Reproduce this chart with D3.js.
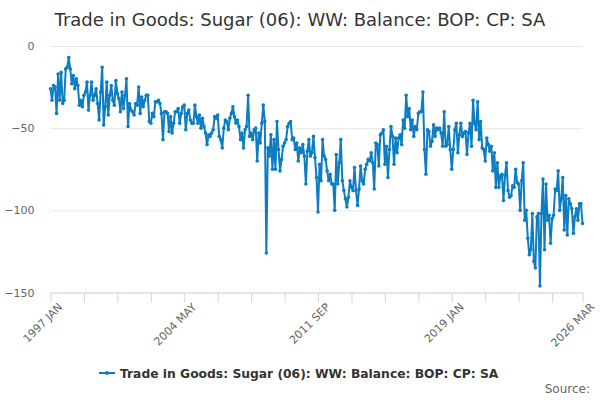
<!DOCTYPE html>
<html>
<head>
<meta charset="utf-8">
<script src="https://cdn.jsdelivr.net/npm/d3@7"></script>
<style>
	body { margin: 0; background: #fff; }
	svg { font-family: "DejaVu Sans", sans-serif; }
</style>
</head>
<body>
<script>
(function() {
	'use strict';

	// DATA //

	var title = 'Trade in Goods: Sugar (06): WW: Balance: BOP: CP: SA',
		seriesName = 'Trade in Goods: Sugar (06): WW: Balance: BOP: CP: SA',
		startYear = 1997,
		monthNames = [ 'JAN','FEB','MAR','APR','MAY','JUN','JUL','AUG','SEP','OCT','NOV','DEC' ],
		yTicks = [ 0, -50, -100, -150 ],
		tickLabels = [ '1997 JAN', '2004 MAY', '2011 SEP', '2019 JAN', '2026 MAR' ];

	// Monthly balance, one row per year (1997 ... 2026 MAR):
	var values = [
		-26, -33, -24, -25, -41, -17, -33, -16, -35, -33, -14, -13,
		-7, -14, -23, -18, -26, -20, -24, -36, -33, -37, -30, -28,
		-22, -39, -30, -22, -33, -30, -26, -35, -45, -28, -13, -48,
		-37, -22, -42, -30, -24, -33, -36, -21, -29, -32, -40, -28,
		-38, -30, -20, -49, -35, -39, -40, -42, -35, -36, -25, -41,
		-31, -37, -33, -30, -30, -46, -47, -41, -43, -34, -34, -33,
		-35, -41, -57, -40, -40, -41, -52, -43, -53, -47, -40, -40,
		-38, -47, -41, -37, -36, -51, -41, -39, -45, -47, -47, -36,
		-43, -47, -42, -50, -44, -49, -53, -60, -54, -55, -53, -51,
		-43, -44, -42, -55, -57, -62, -50, -45, -46, -51, -44, -41,
		-37, -43, -47, -45, -49, -57, -53, -62, -51, -49, -30, -55,
		-53, -57, -51, -50, -70, -53, -59, -47, -36, -46, -126, -62,
		-67, -54, -75, -57, -75, -46, -63, -76, -69, -61, -59, -57,
		-49, -47, -46, -57, -56, -63, -59, -70, -62, -65, -60, -67,
		-84, -64, -57, -67, -65, -55, -68, -80, -101, -72, -82, -57,
		-67, -69, -76, -82, -78, -84, -84, -100, -66, -84, -71, -57,
		-82, -88, -93, -98, -92, -82, -86, -88, -74, -88, -97, -87,
		-73, -82, -84, -75, -72, -69, -70, -65, -71, -87, -59, -60,
		-73, -54, -53, -51, -72, -61, -80, -63, -49, -55, -72, -56,
		-65, -56, -54, -60, -45, -50, -30, -43, -38, -51, -45, -55,
		-49, -51, -41, -40, -40, -28, -63, -78, -51, -52, -61, -58,
		-48, -55, -50, -51, -50, -53, -61, -40, -61, -60, -49, -63,
		-75, -63, -51, -47, -65, -54, -47, -55, -53, -52, -66, -53,
		-47, -61, -33, -47, -51, -34, -57, -46, -62, -63, -70, -56,
		-60, -64, -61, -76, -65, -86, -71, -86, -79, -78, -94, -79,
		-71, -88, -92, -91, -85, -86, -75, -83, -84, -100, -82, -71,
		-106, -100, -117, -127, -124, -102, -131, -135, -104, -102, -146, -102,
		-81, -124, -84, -106, -103, -120, -105, -103, -87, -88, -76, -100,
		-93, -80, -112, -91, -115, -93, -96, -99, -114, -104, -99, -106,
		-96, -96, -108
	];

	// SETUP //

	var w = 600,
		h = 400,
		color = '#0d7dc2',
		left = 50.5,
		right = 582.5,
		top = 46,
		bottom = 292.5,
		categories = [],
		tickEvery = 22,
		svg, xScale, yScale, xAxis, yAxis, line, xTickValues, labelled, i, legend;

	// Build the category names from the first month:
	for ( i = 0; i < values.length; i++ ) {
		categories.push( ( startYear + Math.floor( i/12 ) ) + ' ' + monthNames[ i % 12 ] );
	}

	// Tick marks every 22 months, plus the last month:
	xTickValues = d3.range( 0, values.length - 1, tickEvery );
	xTickValues.push( values.length - 1 );
	labelled = tickLabels.map( function( d ) { return categories.indexOf( d ); } );

	xScale = d3.scaleLinear()
		.domain( [ 0, values.length - 1 ] )
		.range( [ left, right ] );

	yScale = d3.scaleLinear()
		.domain( [ -150, 0 ] )
		.range( [ bottom, top ] );

	svg = d3.select( 'body' ).append( 'svg' )
		.attr( 'width', w )
		.attr( 'height', h )
		.attr( 'viewBox', '0 0 ' + w + ' ' + h );

	// Title:
	svg.append( 'text' )
		.attr( 'x', w/2 )
		.attr( 'y', 26 )
		.attr( 'text-anchor', 'middle' )
		.style( 'font-size', '18px' )
		.style( 'fill', '#333333' )
		.text( title );

	// Gridlines and y labels:
	yAxis = svg.append( 'g' )
		.attr( 'class', 'y axis' )
		.attr( 'transform', 'translate(' + left + ',0)' )
		.call( d3.axisLeft( yScale ).tickValues( yTicks ).tickSize( -( right - left ) ).tickPadding( 16 ) );
	yAxis.select( '.domain' ).remove();
	yAxis.selectAll( 'line' )
		.attr( 'stroke', '#e6e6e6' );
	yAxis.selectAll( 'text' )
		.style( 'font-size', '11px' )
		.style( 'font-family', '"DejaVu Sans", sans-serif' )
		.style( 'fill', '#666666' );

	// X axis:
	xAxis = svg.append( 'g' )
		.attr( 'class', 'x axis' )
		.attr( 'transform', 'translate(0,' + bottom + ')' )
		.call( d3.axisBottom( xScale )
			.tickValues( xTickValues )
			.tickSize( 10 )
			.tickSizeOuter( 0 )
			.tickFormat( function( d ) {
				return labelled.indexOf( d ) === -1 ? '' : categories[ d ];
			}) );
	xAxis.select( '.domain' )
		.attr( 'stroke', '#ccd6eb' );
	xAxis.selectAll( 'line' )
		.attr( 'stroke', '#ccd6eb' );
	xAxis.selectAll( 'text' )
		.style( 'font-size', '11px' )
		.style( 'font-family', '"DejaVu Sans", sans-serif' )
		.style( 'fill', '#666666' )
		.attr( 'text-anchor', 'end' )
		.attr( 'dy', null )
		.attr( 'transform', 'translate(3,6) rotate(-45)' );

	// Series line:
	line = d3.line()
		.x( function( d, j ) { return xScale( j ); } )
		.y( function( d ) { return yScale( d ); } );

	svg.append( 'path' )
		.datum( values )
		.attr( 'fill', 'none' )
		.attr( 'stroke', color )
		.attr( 'stroke-width', 2 )
		.attr( 'stroke-linejoin', 'round' )
		.attr( 'd', line );

	svg.append( 'g' ).selectAll( 'circle' )
		.data( values )
	  .enter().append( 'circle' )
		.attr( 'cx', function( d, j ) { return xScale( j ); } )
		.attr( 'cy', function( d ) { return yScale( d ); } )
		.attr( 'r', 1.8 )
		.attr( 'fill', color );

	// Legend:
	legend = svg.append( 'g' )
		.attr( 'transform', 'translate(99,373)' );
	legend.append( 'line' )
		.attr( 'x1', 0 )
		.attr( 'x2', 16 )
		.attr( 'stroke', color )
		.attr( 'stroke-width', 2 );
	legend.append( 'circle' )
		.attr( 'cx', 8 )
		.attr( 'r', 2 )
		.attr( 'fill', color );
	legend.append( 'text' )
		.attr( 'x', 21 )
		.attr( 'y', 5 )
		.style( 'font-size', '12.3px' )
		.style( 'font-weight', 'bold' )
		.style( 'fill', '#333333' )
		.text( seriesName );

	// Credits:
	svg.append( 'text' )
		.attr( 'x', 590 )
		.attr( 'y', 393 )
		.attr( 'text-anchor', 'end' )
		.style( 'font-size', '12px' )
		.style( 'fill', '#666666' )
		.text( 'Source:' );

})();
</script>
</body>
</html>
